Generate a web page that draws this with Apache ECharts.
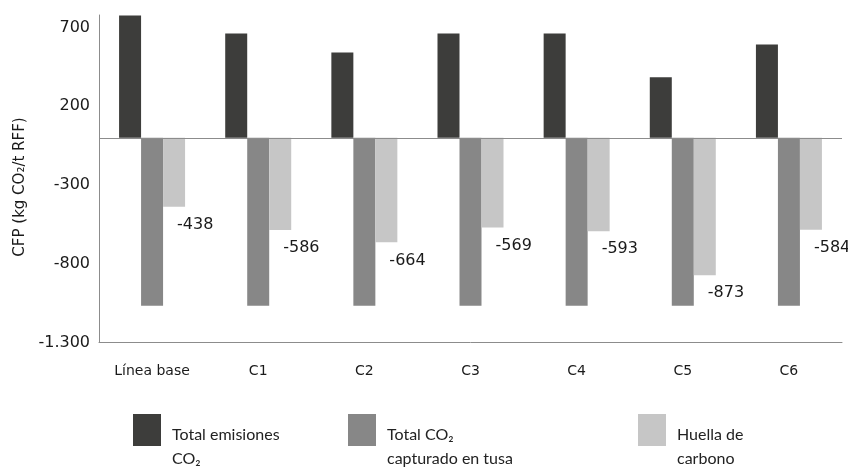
<!DOCTYPE html>
<html>
<head>
<meta charset="utf-8">
<script src="https://cdn.jsdelivr.net/npm/echarts@6/dist/echarts.min.js"></script>
<style>
  html, body { margin: 0; padding: 0; background: #ffffff; }
  #chart { width: 848px; height: 468px; }
</style>
</head>
<body>
<div id="chart"></div>
<script>
// Scenarios on the category axis
const categories = ['Línea base', 'C1', 'C2', 'C3', 'C4', 'C5', 'C6'];

// kg CO2 per t RFF
const totalEmissions = [777, 663, 542, 663, 663, 384, 593];
const totalCaptured = [-1067, -1067, -1067, -1067, -1067, -1067, -1067];
const carbonFootprint = [-438, -586, -664, -569, -593, -873, -584];

// Value axis range and step (ticks: -1300, -800, -300, 200, 700)
const yMin = -1300;
const yMax = 780;
const yStep = 500;

const yTitle = 'CFP (kg CO₂/t RFF)';
const seriesNames = ['Total emisiones CO₂', 'Total CO₂ capturado en tusa', 'Huella de carbono'];
const legendLines = [['Total emisiones', 'CO₂'], ['Total CO₂', 'capturado en tusa'], ['Huella de', 'carbono']];
const colors = ['#3d3d3b', '#878787', '#c6c6c6'];

const numFont = 'DejaVu Sans';
const legendFont = 'Lato';

function legendAt(i, left) {
  return {
    data: [seriesNames[i]],
    left: left,
    top: 401,
    padding: 0,
    orient: 'horizontal',
    icon: 'rect',
    itemWidth: 28,
    itemHeight: 32,
    selectedMode: false,
    // a spacer line pushes the two text lines below the swatch centre
    formatter: function () {
      return '{s| }\n{t|' + legendLines[i][0] + '}\n{t|' + legendLines[i][1] + '}';
    },
    textStyle: {
      fontFamily: legendFont,
      fontSize: 16,
      color: '#222222',
      rich: {
        s: { lineHeight: 34, fontSize: 10, padding: [0, 0, 0, 6] },
        t: { lineHeight: 24, fontSize: 16, fontFamily: legendFont, color: '#222222', padding: [0, 0, 0, 6] }
      }
    }
  };
}

const chart = echarts.init(document.getElementById('chart'), null, { renderer: 'canvas' });

chart.setOption({
  animation: false,
  backgroundColor: '#ffffff',
  grid: { left: 99, right: 6, top: 15, bottom: 125.5, containLabel: false },
  legend: [legendAt(0, 133), legendAt(1, 348), legendAt(2, 638)],
  // vertical axis title
  graphic: [{
    type: 'text',
    x: 20,
    y: 187,
    rotation: Math.PI / 2,
    silent: true,
    style: {
      text: yTitle,
      fontFamily: numFont,
      fontSize: 15,
      fill: '#1a1a1a',
      align: 'center',
      verticalAlign: 'middle'
    }
  }],
  xAxis: {
    type: 'category',
    data: categories,
    axisLine: { show: true, onZero: false, lineStyle: { color: '#8c8c8c', width: 1 } },
    axisTick: { show: false },
    axisLabel: {
      margin: 22,
      fontFamily: numFont,
      fontSize: 14,
      color: '#1a1a1a'
    },
    splitLine: { show: false }
  },
  yAxis: {
    type: 'value',
    min: yMin,
    max: yMax,
    interval: yStep,
    axisLine: { show: true, lineStyle: { color: '#8c8c8c', width: 1 } },
    axisTick: { show: false },
    splitLine: { show: false },
    axisLabel: {
      showMaxLabel: false,
      margin: 9,
      fontFamily: numFont,
      fontSize: 16,
      color: '#1a1a1a',
      padding: [0, 0, 6, 0],
      formatter: function (v) {
        return String(v).replace(/(\d)(?=(\d{3})+$)/, '$1.');
      }
    }
  },
  series: [
    {
      name: seriesNames[0],
      type: 'bar',
      data: totalEmissions,
      barWidth: 22,
      barGap: '0%',
      itemStyle: { color: colors[0] },
      markLine: {
        silent: true,
        symbol: ['none', 'none'],
        label: { show: false },
        lineStyle: { color: '#8c8c8c', width: 1, type: 'solid' },
        data: [{ yAxis: 0 }]
      }
    },
    {
      name: seriesNames[1],
      type: 'bar',
      data: totalCaptured,
      barWidth: 22,
      barGap: '0%',
      itemStyle: { color: colors[1] }
    },
    {
      name: seriesNames[2],
      type: 'bar',
      data: carbonFootprint,
      barWidth: 22,
      barGap: '0%',
      itemStyle: { color: colors[2] },
      label: {
        show: true,
        position: ['100%', '100%'],
        offset: [-8, 10],
        align: 'left',
        verticalAlign: 'top',
        fontFamily: numFont,
        fontSize: 16,
        color: '#1a1a1a'
      }
    }
  ]
});
</script>
</body>
</html>
